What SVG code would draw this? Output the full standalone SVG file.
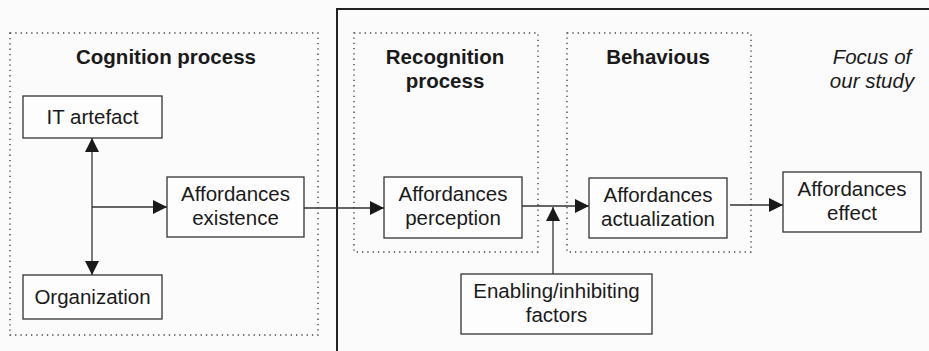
<svg xmlns="http://www.w3.org/2000/svg" width="929" height="351" viewBox="0 0 929 351">
<defs>
<style>
text{font-family:"Liberation Sans",Arial,sans-serif;fill:#1a1a1a}
.t{font-size:20.5px;text-anchor:middle}
.b{font-size:20.5px;font-weight:bold;text-anchor:middle}
.i{font-size:20.5px;font-style:italic;text-anchor:middle}
.box{fill:#fdfdfd;stroke:#333;stroke-width:1.3}
.dot{fill:none;stroke:#444;stroke-width:1.4;stroke-dasharray:1.3,4}
.ln{fill:none;stroke:#333;stroke-width:1.3}
</style>
<marker id="ah" viewBox="0 0 10 10" refX="10" refY="5" markerWidth="19" markerHeight="14" markerUnits="userSpaceOnUse" orient="auto-start-reverse">
<path d="M0,0 L10,5 L0,10 z" fill="#1a1a1a"/>
</marker>
</defs>
<rect width="929" height="351" fill="#fbfbfb"/>
<g id="frame"><path d="M337,351 V9 H929" fill="none" stroke="#222" stroke-width="2"/></g>
<g id="group-cognition"><rect class="dot" x="10" y="33" width="308" height="302"/><text class="b" x="166" y="64">Cognition process</text></g>
<g id="group-recognition"><rect class="dot" x="354" y="33" width="184" height="219"/><text class="b" x="445" y="64">Recognition</text><text class="b" x="445" y="88">process</text></g>
<g id="group-behavious"><rect class="dot" x="567" y="33" width="184" height="219"/><text class="b" x="658" y="64">Behavious</text></g>
<g id="focus"><text class="i" x="872" y="64">Focus of</text><text class="i" x="872" y="88">our study</text></g>
<g id="connectors">
<line class="ln" x1="92" y1="207" x2="92" y2="138" marker-end="url(#ah)"/>
<line class="ln" x1="92" y1="207" x2="92" y2="275" marker-end="url(#ah)"/>
<line class="ln" x1="92" y1="207" x2="167" y2="207" marker-end="url(#ah)"/>
<line class="ln" x1="304" y1="208" x2="384" y2="208" marker-end="url(#ah)"/>
<line class="ln" x1="522" y1="206" x2="589" y2="206" marker-end="url(#ah)"/>
<line class="ln" x1="553" y1="274" x2="553" y2="207" marker-end="url(#ah)"/>
<line class="ln" x1="730" y1="205" x2="783" y2="205" marker-end="url(#ah)"/>
</g>
<g id="it-artefact"><rect class="box" x="23" y="96" width="139" height="42"/><text class="t" x="92.5" y="124">IT artefact</text></g>
<g id="organization"><rect class="box" x="23" y="275" width="139" height="44"/><text class="t" x="92.5" y="304">Organization</text></g>
<g id="affordances-existence"><rect class="box" x="167" y="177" width="137" height="60"/><text class="t" x="235.5" y="201">Affordances</text><text class="t" x="235.5" y="225">existence</text></g>
<g id="affordances-perception"><rect class="box" x="384" y="177" width="138" height="61"/><text class="t" x="453" y="201">Affordances</text><text class="t" x="453" y="225">perception</text></g>
<g id="affordances-actualization"><rect class="box" x="589" y="178" width="138" height="60"/><text class="t" x="658" y="202">Affordances</text><text class="t" x="658" y="226">actualization</text></g>
<g id="affordances-effect"><rect class="box" x="783" y="172" width="138" height="60"/><text class="t" x="852" y="196">Affordances</text><text class="t" x="852" y="220">effect</text></g>
<g id="enabling-factors"><rect class="box" x="461" y="274" width="191" height="60"/><text class="t" x="556.5" y="298">Enabling/inhibiting</text><text class="t" x="556.5" y="322">factors</text></g>
</svg>
